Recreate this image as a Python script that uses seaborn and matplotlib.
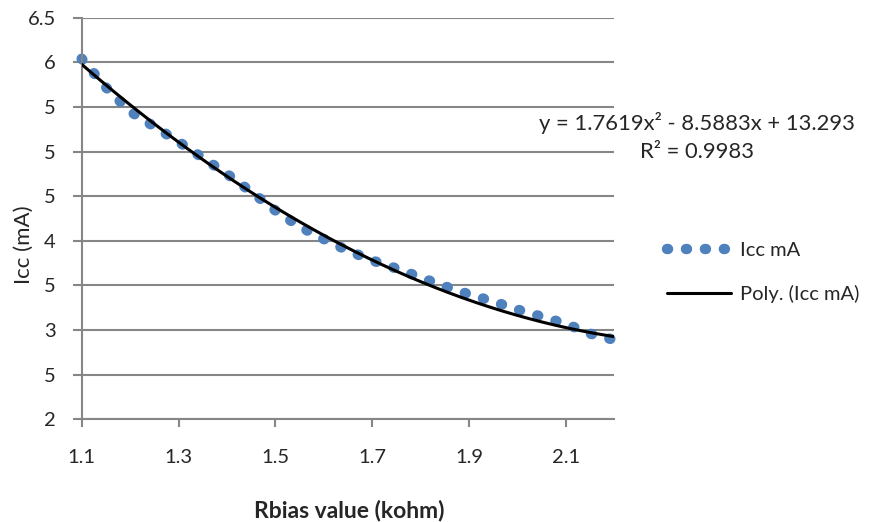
import numpy as np
import matplotlib
matplotlib.use("Agg")
import matplotlib.pyplot as plt
import seaborn as sns

rbias = [1.10, 1.15, 1.20, 1.25, 1.30, 1.35, 1.40, 1.45, 1.50, 1.55, 1.60, 1.65,
         1.70, 1.75, 1.80, 1.85, 1.90, 1.95, 2.00, 2.05, 2.10, 2.15, 2.20]
icc = [6.04, 5.72, 5.45, 5.28, 5.11, 4.93, 4.75, 4.55, 4.34, 4.16, 4.02, 3.89,
       3.78, 3.69, 3.59, 3.49, 3.40, 3.32, 3.23, 3.15, 3.07, 2.96, 2.89]

# excel trendline
poly_coef = [1.7619, -8.5883, 13.293]
r_squared = 0.9983

xtick_vals = [1.1, 1.3, 1.5, 1.7, 1.9, 2.1]
xtick_labels = ["1.1", "1.3", "1.5", "1.7", "1.9", "2.1"]
ytick_vals = [2, 2.5, 3, 3.5, 4, 4.5, 5, 5.5, 6, 6.5]
ytick_labels = ["2", "5", "3", "5", "4", "5", "5", "5", "6", "6.5"]

GRAY = "#868686"
BLUE = "#4F81BD"

sns.set_style("white")
plt.rcParams["font.family"] = ["Lato", "DejaVu Sans"]

fig, ax = plt.subplots(figsize=(8.81, 5.22), dpi=100)
fig.subplots_adjust(left=0.0927, right=0.6973, bottom=0.1967, top=0.9661)

# round-dot line, like excel's "round dot" dash type
sns.lineplot(x=rbias, y=icc, ax=ax, color=BLUE, lw=7.5, linestyle=(0, (0.1, 1.72)),
             dash_capstyle="round", label="Icc mA", legend=False, clip_on=False, zorder=2)

xs = np.linspace(rbias[0], rbias[-1], 200)
sns.lineplot(x=xs, y=np.polyval(poly_coef, xs), ax=ax, color="black", lw=2.2,
             label="Poly. (Icc mA)", legend=False, zorder=3)

ax.set_xlim(1.1, 2.2)
ax.set_ylim(2, 6.5)
ax.set_xticks(xtick_vals)
ax.set_xticklabels(xtick_labels)
ax.set_yticks(ytick_vals)
ax.set_yticklabels(ytick_labels)

ax.set_axisbelow(True)
ax.yaxis.grid(True, color=GRAY, lw=1.5)
ax.xaxis.grid(False)
sns.despine(ax=ax)
for side in ["left", "bottom"]:
    ax.spines[side].set_color(GRAY)
    ax.spines[side].set_linewidth(1.5)

ax.tick_params(axis="y", length=6.5, width=1.5, color=GRAY, pad=12, labelsize=14.5, left=True)
ax.tick_params(axis="x", length=5.5, width=1.5, color=GRAY, pad=16, labelsize=14.5, bottom=True)

ax.set_xlabel("Rbias value (kohm)", fontsize=16.5, fontweight="bold")
ax.set_ylabel("Icc (mA)", fontsize=16)
ax.xaxis.label.set_va("center")
ax.yaxis.label.set_va("center")
ax.xaxis.set_label_coords(0.502, -0.226)
ax.yaxis.set_label_coords(-0.108, 0.434)

a, b, c = poly_coef
fig.text(0.791, 0.764, f"y = {a}x² - {abs(b)}x + {c}", ha="center", va="center", fontsize=15.8)
fig.text(0.791, 0.709, f"R² = {r_squared}", ha="center", va="center", fontsize=15.8)

handles, labels = ax.get_legend_handles_labels()
fig.legend(handles, labels, loc="center left", bbox_to_anchor=(0.757, 0.478),
           frameon=False, fontsize=14.5, handlelength=3.2, handletextpad=0.45,
           labelspacing=1.25, borderpad=0, borderaxespad=0)

fig.savefig("out.png", dpi=100)
